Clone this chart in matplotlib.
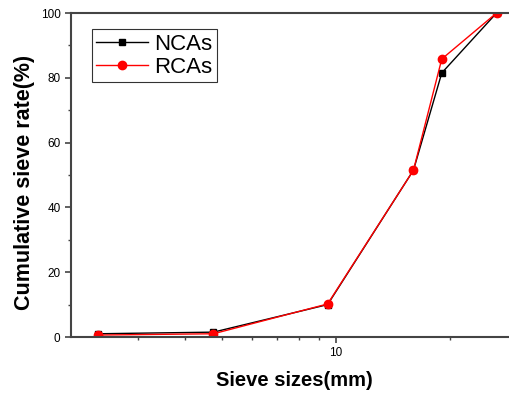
import matplotlib
matplotlib.use('Agg')
import matplotlib.pyplot as plt
from matplotlib.ticker import FixedLocator, NullFormatter, MultipleLocator

plt.rcParams['font.family'] = ['Liberation Sans', 'DejaVu Sans']

# Sieve sizes (mm) and cumulative passing (%)
sizes = [2.36, 4.75, 9.5, 16, 19, 26.5]
ncas = [1.0, 1.5, 10.0, 51.5, 81.5, 100]
rcas = [0.6, 1.0, 10.2, 51.5, 85.8, 100]

fig = plt.figure(figsize=(5.10, 3.99), dpi=100)
ax = fig.add_axes([71/510, 62/399, 446/510, 324/399])

ax.plot(sizes, ncas, color='black', marker='s', markersize=4.5, linewidth=1, label='NCAs')
ax.plot(sizes, rcas, color='red', marker='o', markersize=6, linewidth=1, label='RCAs')

ax.set_xscale('log')
ax.set_xlim(2, 30)
ax.set_ylim(0, 100)
ax.xaxis.set_major_locator(FixedLocator([10]))
ax.xaxis.set_minor_locator(FixedLocator([3, 4, 5, 6, 7, 8, 9, 20]))
ax.xaxis.set_minor_formatter(NullFormatter())
ax.set_xticklabels(['10'])
ax.yaxis.set_major_locator(MultipleLocator(20))
ax.yaxis.set_minor_locator(MultipleLocator(10))

for s in ['left', 'bottom', 'top']:
    ax.spines[s].set_linewidth(1.5)
    ax.spines[s].set_color('#444444')
ax.spines['right'].set_visible(False)

ax.tick_params(which='major', direction='out', length=4, width=1.2, color='#444444', labelsize=8.5)
ax.tick_params(which='minor', direction='out', length=2.5, width=1, color='#444444')

ax.set_xlabel('Sieve sizes(mm)', fontsize=14.5, fontweight='bold', labelpad=8)
ax.set_ylabel('Cumulative sieve rate(%)', fontsize=15.5, fontweight='bold')
ax.yaxis.set_label_coords(-0.08, 0.477)

leg = ax.legend(loc='upper left', bbox_to_anchor=(0.047, 0.95), fontsize=16,
                frameon=True, fancybox=False, edgecolor='black', handlelength=2.3,
                borderpad=0.2, labelspacing=0.1, handletextpad=0.3, borderaxespad=0)
leg.get_frame().set_linewidth(0.8)

fig.savefig('out.png', dpi=100)
